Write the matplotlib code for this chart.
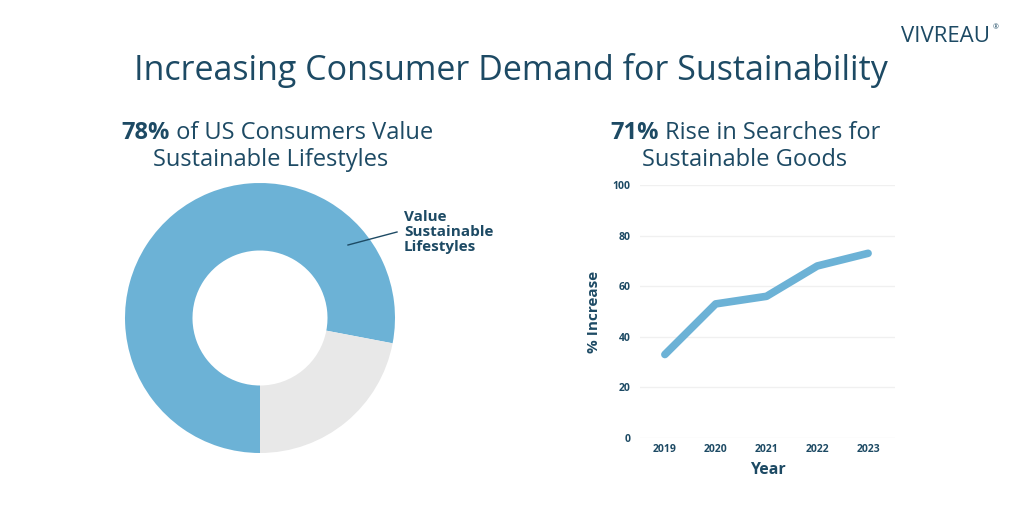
import matplotlib
matplotlib.use("Agg")
from matplotlib import pyplot as plt

# data
share_labels = ["Value Sustainable Lifestyles", "Other"]
share_values = [78, 22]

years = [2019, 2020, 2021, 2022, 2023]
increase = [33, 53, 56, 68, 73]
y_ticks = [0, 20, 40, 60, 80, 100]

navy = "#1d4a64"
blue = "#6cb2d6"
grey = "#e8e8e8"

plt.rcParams["font.family"] = ["Open Sans", "DejaVu Sans"]

fig = plt.figure(figsize=(10.24, 5.12), dpi=100)
fig.patch.set_facecolor("white")

fig.text(511 / 1024, 1 - 70 / 512, "Increasing Consumer Demand for Sustainability",
         ha="center", va="center", fontsize=24.5, color=navy)

fig.text(0.967, 1 - 36 / 512, "VIVREAU", ha="right", va="center",
         fontsize=16, color=navy)
fig.text(0.969, 1 - 28 / 512, "®", ha="left", va="center", fontsize=5, color=navy)


def two_part(x, y, bold, rest, size):
    # draw a bold lead-in followed by regular text, centred on x
    r = fig.canvas.get_renderer()
    t1 = fig.text(0, y, bold, fontsize=size, fontweight="bold", color=navy,
                  va="center", ha="left")
    t2 = fig.text(0, y, rest, fontsize=size, color=navy, va="center", ha="left")
    w1 = t1.get_window_extent(r).width / fig.bbox.width
    w2 = t2.get_window_extent(r).width / fig.bbox.width
    x0 = x - (w1 + w2) / 2
    t1.set_x(x0)
    t2.set_x(x0 + w1)


size_sub = 17
two_part(277 / 1024, 1 - 133 / 512, "78%", " of US Consumers Value", size_sub)
fig.text(271 / 1024, 1 - 160 / 512, "Sustainable Lifestyles", ha="center",
         va="center", fontsize=size_sub, color=navy)
two_part(745 / 1024, 1 - 133 / 512, "71%", " Rise in Searches for", size_sub)
fig.text(745 / 1024, 1 - 160 / 512, "Sustainable Goods", ha="center",
         va="center", fontsize=size_sub, color=navy)

# donut
ax1 = fig.add_axes([125 / 1024, 1 - 453 / 512, 270 / 1024, 270 / 512])
ax1.pie(share_values, colors=[blue, grey], startangle=270, counterclock=False,
        radius=1, wedgeprops=dict(width=0.5, linewidth=0))
ax1.set_xlim(-1, 1)
ax1.set_ylim(-1, 1)
ax1.set_aspect("equal")
ax1.axis("off")

fig.add_artist(plt.Line2D([348 / 1024, 397 / 1024], [1 - 245 / 512, 1 - 232 / 512],
                          color=navy, lw=1, transform=fig.transFigure))
fig.text(404 / 1024, 1 - 210 / 512, "Value\nSustainable\nLifestyles", ha="left",
         va="top", fontsize=11, fontweight="bold", color=navy, linespacing=1.1)

# line chart
ax2 = fig.add_axes([640 / 1024, 1 - 438 / 512, 255 / 1024, 253 / 512])
ax2.plot(years, increase, color=blue, lw=5.5, solid_capstyle="round",
         solid_joinstyle="round")
ax2.set_ylim(0, 100)
ax2.set_xlim(2018.51, 2023.53)
ax2.set_xticks(years)
ax2.set_yticks(y_ticks)
ax2.grid(axis="y", color="#f0f0f0", lw=1)
ax2.set_axisbelow(True)
for s in ax2.spines.values():
    s.set_visible(False)
ax2.tick_params(length=0, labelsize=7.5, labelcolor=navy)
ax2.tick_params(axis="x", pad=4)
ax2.tick_params(axis="y", pad=7)
for lab in ax2.get_xticklabels() + ax2.get_yticklabels():
    lab.set_fontweight("bold")
ax2.set_xlabel("Year", fontsize=11.5, fontweight="bold", color=navy, labelpad=5)
ax2.set_ylabel("% Increase", fontsize=11, fontweight="bold", color=navy, labelpad=8)

fig.savefig("out.png", dpi=100, facecolor="white")
